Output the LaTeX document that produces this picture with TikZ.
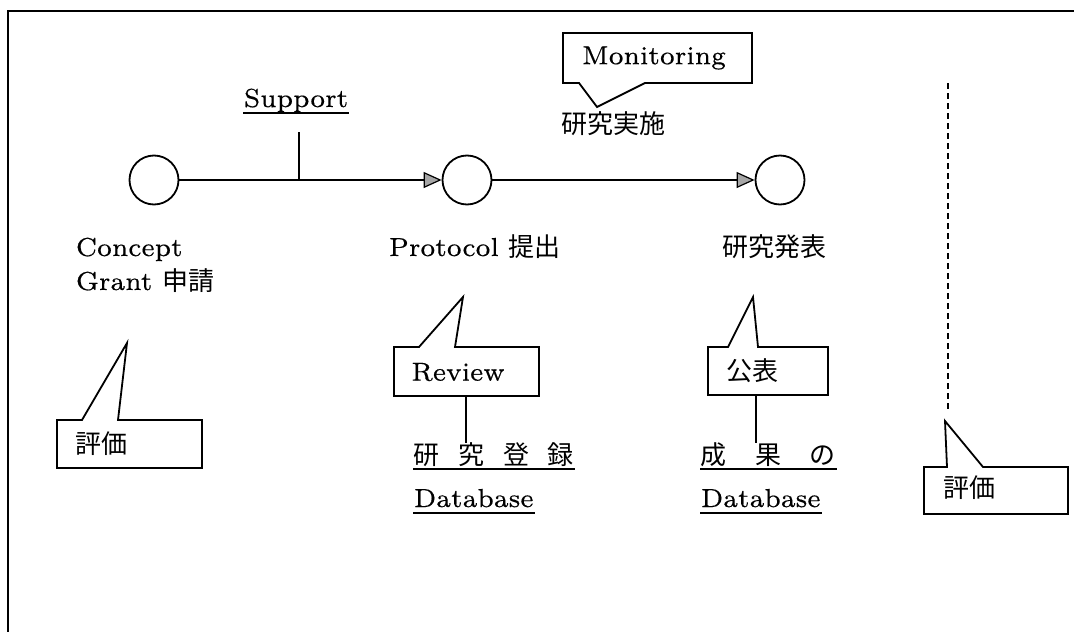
\documentclass[tikz,border=0pt]{standalone}
\usepackage{fontspec}
\setmainfont{lmroman7-regular.otf}[FakeStretch=1.0,FakeBold=0.4]
\newfontfamily\jp{Noto Sans CJK JP}
\usetikzlibrary{arrows.meta,calc}
\begin{document}
\begin{tikzpicture}[x=1pt,y=-1pt,
  font=\fontsize{26}{30}\selectfont,
  line width=1.8pt,
  txt/.style={inner sep=0pt, anchor=base west},
  ctxt/.style={inner sep=0pt},
  circ/.style={draw, circle, minimum size=49pt, inner sep=0pt},
  arr/.style={-{Triangle[length=18pt,width=16pt,fill=gray!70,line width=1.2pt]}},
  callout/.style={draw, line join=miter},
  uline/.style={line width=1.4pt}]
\useasboundingbox (0,0) rectangle (1082,632);
% frame
\draw (8,632) -- (8,11) -- (1074,11);

% circles and arrows
\node[circ] (c1) at (154,180) {};
\node[circ] (c2) at (467,180) {};
\node[circ] (c3) at (780,180) {};
\draw[arr] (c1) -- (c2);
\draw[arr] (c2) -- (c3);

% Support
\node[txt] (support) at (243,107) {Support};
\draw[uline] ($(support.base west)+(0,6)$) -- ($(support.base east)+(0,6)$);
\coordinate (stop) at (299,132);
\coordinate (sjoin) at (299,180);
\draw (stop) -- (sjoin);

% Monitoring callout
\draw[callout] (563,33) -- (752,33) -- (752,83) -- (645,83) -- (597,107) -- (579,83) -- (563,83) -- cycle;
\node[ctxt] (mon) at (654,58) {Monitoring};
\node[ctxt] (jisshi) at (613,124) {\jp 研究実施};

% labels below circles
\node[txt] (concept) at (75,256) {Concept};
\node[txt] (grant) at (75,290) {Grant {\jp 申請}};
\node[txt] (protocol) at (388,256) {Protocol {\jp 提出}};
\node[txt] (happyo) at (722,256) {\jp 研究発表};

% left 評価 callout
\draw[callout] (57,420) -- (82,420) -- (127,343) -- (118,420) -- (202,420) -- (202,468) -- (57,468) -- cycle;
\node[ctxt] (hyoka1) at (101,444) {\jp 評価};

% Review callout
\draw[callout] (394,347) -- (419,347) -- (463,297) -- (455,347) -- (539,347) -- (539,396) -- (394,396) -- cycle;
\node[ctxt] (review) at (458,372) {Review};
\coordinate (rv) at (466,396);
\coordinate (rvb) at (466,443);
\draw (rv) -- (rvb);
\node[txt] (touroku) at (413,464) {\jp\makebox[160pt][s]{研\hfill 究\hfill 登\hfill 録}};
\draw[uline] ($(touroku.base west)+(0,5)$) -- ($(touroku.base east)+(0,5)$);
\node[txt] (db1) at (413,507) {Database};
\draw[uline] ($(db1.base west)+(0,6)$) -- ($(db1.base east)+(0,6)$);

% 公表 callout
\draw[callout] (708,347) -- (728,347) -- (753,297) -- (758,347) -- (828,347) -- (828,395) -- (708,395) -- cycle;
\node[ctxt] (kohyo) at (752,371) {\jp 公表};
\coordinate (kv) at (756,395);
\coordinate (kvb) at (756,443);
\draw (kv) -- (kvb);
\node[txt] (seika) at (700,464) {\jp\makebox[135pt][s]{成\hfill 果\hfill の}};
\draw[uline] ($(seika.base west)+(0,5)$) -- ($(seika.base east)+(0,5)$);
\node[txt] (db2) at (700,507) {Database};
\draw[uline] ($(db2.base west)+(0,6)$) -- ($(db2.base east)+(0,6)$);

% dashed line and right 評価 callout
\coordinate (dtop) at (948,83);
\coordinate (dbot) at (948,412);
\draw[line width=2pt, dash pattern=on 6pt off 4pt] (dtop) -- (dbot);
\draw[callout] (924,467) -- (947,467) -- (945,421) -- (983,467) -- (1068,467) -- (1068,514) -- (924,514) -- cycle;
\node[ctxt] (hyoka2) at (969,488) {\jp 評価};
\end{tikzpicture}
\end{document}
